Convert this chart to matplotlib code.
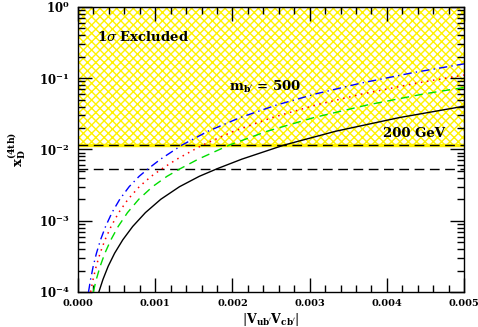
import math
import matplotlib
matplotlib.use("Agg")
import matplotlib.pyplot as plt
from matplotlib.ticker import FixedLocator, LogLocator, NullFormatter, FuncFormatter

plt.rcParams['font.family'] = ['DejaVu Serif']
plt.rcParams['mathtext.fontset'] = 'dejavuserif'
plt.rcParams['hatch.linewidth'] = 1.0

# Data (y levels shared, x where each curve crosses them)
y_levels = [1.0e-4, 1.5e-4, 2.3e-4, 3.5e-4, 5.4e-4, 8.3e-4, 1.3e-3, 2.0e-3, 3.0e-3, 4.2e-3,
            5.4e-3, 7.3e-3, 1.15e-2, 1.8e-2, 2.8e-2, 4.2e-2, 6.0e-2, 8.5e-2, 0.12]

x_black = [0.000271, 0.000324, 0.000392, 0.000475, 0.000581, 0.000709, 0.000874, 0.001073, 0.001315,
           0.001572, 0.001809, 0.002121, 0.002667, 0.003337, 0.004162, 0.00500]
y_black = y_levels[:15] + [0.0404]

x_green = [0.000199, 0.000238, 0.000288, 0.000349, 0.000427, 0.000521, 0.000642, 0.000788, 0.000965,
           0.001154, 0.001329, 0.001557, 0.001959, 0.002450, 0.003056, 0.003743, 0.004474, 0.00500]
y_green = y_levels[:17] + [0.074]

x_red = [0.000164, 0.000196, 0.000237, 0.000287, 0.000351, 0.000429, 0.000528, 0.000649, 0.000794,
         0.000949, 0.001093, 0.001281, 0.001611, 0.002016, 0.002514, 0.003079, 0.003681, 0.004381, 0.00500]
y_red = y_levels[:18] + [0.1107]

x_blue = [0.000137, 0.000164, 0.000198, 0.000240, 0.000293, 0.000358, 0.000441, 0.000542, 0.000663,
          0.000793, 0.000913, 0.001070, 0.001346, 0.001684, 0.002100, 0.002572, 0.003075, 0.003660,
          0.004348, 0.00500]
y_blue = y_levels[:19] + [0.1587]

excl_upper = 0.0116   # 1 sigma exclusion bound
excl_lower = 0.0054   # second dashed bound

x_ticks = [0.000, 0.001, 0.002, 0.003, 0.004, 0.005]
x_ticklabels = ["0.000", "0.001", "0.002", "0.003", "0.004", "0.005"]

fig = plt.figure(figsize=(4.78, 3.27), dpi=100)
ax = fig.add_axes([0.163, 0.107, 0.808, 0.872])
ax.set_yscale('log')
ax.set_xlim(0, 0.005)
ax.set_ylim(1e-4, 1)

ax.fill_between([0, 0.005], excl_upper, 1, facecolor='white', edgecolor='#fff200',
                hatch='xxxx', linewidth=0, zorder=1)
ax.axhline(excl_upper, color='#fff200', lw=2.5, zorder=1.5)
ax.axhline(excl_upper, color='black', lw=1.0, ls=(0, (7, 4)), zorder=2)
ax.axhline(excl_lower, color='black', lw=1.0, ls=(0, (7, 4)), zorder=2)

ax.plot(x_black, y_black, color='black', lw=1.0, zorder=3)
ax.plot(x_green, y_green, color='#00dd00', lw=1.0, ls=(0, (6, 4)), zorder=3)
ax.plot(x_red, y_red, color='red', lw=1.1, ls=(0, (1, 3)), zorder=3)
ax.plot(x_blue, y_blue, color='blue', lw=1.0, ls=(0, (6, 3, 1, 3)), zorder=3)

ax.text(0.00025, 0.38, r'1$\sigma$ Excluded', fontsize=9.5, fontweight='bold', va='center')
ax.text(0.00196, 0.075, r"m$_{\mathbf{b'}}$ = 500", fontsize=9.5, fontweight='bold', va='center')
ax.text(0.00395, 0.0165, '200 GeV', fontsize=9.5, fontweight='bold', va='center')

ax.xaxis.set_major_locator(FixedLocator(x_ticks))
ax.set_xticklabels(x_ticklabels, fontsize=7.0, fontweight='bold')
ax.xaxis.set_minor_locator(FixedLocator([i * 0.0002 for i in range(26)]))
ax.yaxis.set_major_locator(LogLocator(base=10, numticks=10))
ax.yaxis.set_minor_locator(LogLocator(base=10, subs=range(2, 10), numticks=10))
ax.yaxis.set_minor_formatter(NullFormatter())
ax.yaxis.set_major_formatter(FuncFormatter(lambda v, p: r'$\mathbf{10^{%d}}$' % round(math.log10(v))))
for lab in ax.get_yticklabels():
    lab.set_fontsize(8.5)

ax.tick_params(which='both', direction='in', top=True, right=True, width=1.0)
ax.tick_params(which='major', length=10, pad=5)
ax.tick_params(which='minor', length=5)
ax.tick_params(axis='y', which='major', pad=6)
for s in ax.spines.values():
    s.set_linewidth(1.0)

ax.set_xlabel(r"$|\mathbf{V_{ub'}V_{cb'}}|$", fontsize=9, labelpad=2)
ax.set_ylabel(r"$\mathbf{x_D^{(4th)}}$", fontsize=9.5, labelpad=8)

fig.savefig('out.png', dpi=100)
